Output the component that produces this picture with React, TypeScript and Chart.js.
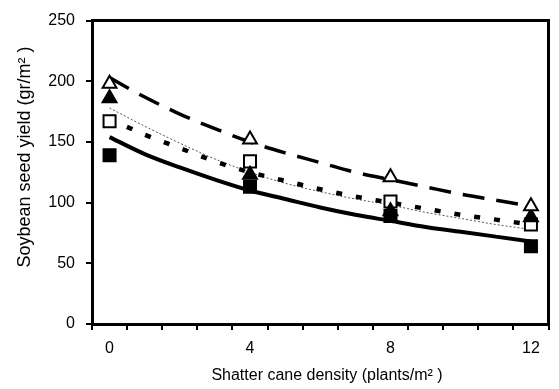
import React, { useEffect, useRef } from "react";
import { Chart, registerables } from "chart.js";

Chart.register(...registerables);

// Observed data (density in plants/m2, yield in gr/m2)
const densities = [0, 4, 8, 12];
const openTriangle = [198, 152, 121, 97];
const filledTriangle = [186, 123, 93, 88];
const openSquare = [167, 134, 101, 82];
const filledSquare = [139, 113, 89, 64];

// Fitted curves
const fitDensities = [0, 1, 2, 3, 4, 5, 6, 7, 8, 9, 10, 11, 12];
const openTriangleFit = [203, 187, 173, 161, 150, 141, 133, 125, 119, 113, 107, 102, 97];
const filledTriangleFit = [169, 156, 145, 134, 125, 118, 111, 105, 100, 95, 90, 86, 82];
const openSquareFit = [178, 163, 149, 136, 125, 116, 109, 103, 98, 92, 87, 82, 78];
const filledSquareFit = [154, 140, 129, 119, 110, 103, 96, 90, 85, 80, 76, 72, 68];

const xTickLabels = ["0", "4", "8", "12"];
const yTickValues = [0, 50, 100, 150, 200, 250];
const xTitle = "Shatter cane density (plants/m\u00B2 )";
const yTitle = "Soybean seed yield (gr/m\u00B2 )";

const FONT = "'Liberation Sans', Arial, sans-serif";

const pts = (xs: number[], ys: number[]) => xs.map((x, i) => ({ x, y: ys[i] }));

const frameAndTitles = {
  id: "frameAndTitles",
  afterDraw(chart: any) {
    const { ctx, chartArea } = chart;
    ctx.save();
    ctx.strokeStyle = "#000";
    ctx.lineWidth = 3;
    ctx.beginPath();
    ctx.moveTo(chartArea.left, chartArea.top);
    ctx.lineTo(chartArea.right, chartArea.top);
    ctx.lineTo(chartArea.right, chartArea.bottom);
    ctx.stroke();
    ctx.fillStyle = "#000";
    ctx.textAlign = "center";
    ctx.textBaseline = "middle";
    ctx.font = `16px ${FONT}`;
    ctx.fillText(xTitle, 327, 376);
    ctx.translate(25, 157);
    ctx.rotate(-Math.PI / 2);
    ctx.font = `18px ${FONT}`;
    ctx.fillText(yTitle, 0, 0);
    ctx.restore();
  },
};

export default function App() {
  const ref = useRef<HTMLCanvasElement>(null);
  useEffect(() => {
    document.body.style.margin = "0";
    const canvas = ref.current!;
    const pointSet = (label: string, data: number[], style: string, fill: boolean, radius: number) => ({
      type: "scatter" as const,
      label,
      data: pts(densities, data),
      pointStyle: style,
      pointRadius: radius,
      pointBackgroundColor: fill ? "#000" : "#fff",
      pointBorderColor: "#000",
      pointBorderWidth: 2,
      showLine: false,
      order: 0,
    });
    const fitSet = (label: string, data: number[], width: number, dash: number[], color: string, offset = 0) => ({
      type: "line" as const,
      label,
      data: pts(fitDensities, data),
      borderColor: color,
      borderWidth: width,
      borderDash: dash,
      borderDashOffset: offset,
      borderCapStyle: "butt",
      pointRadius: 0,
      cubicInterpolationMode: "monotone",
      fill: false,
      order: 1,
    });
    const chart = new Chart(canvas, {
      type: "line",
      data: {
        datasets: [
          pointSet("Open triangle", openTriangle, "triangle", false, 8),
          pointSet("Filled triangle", filledTriangle, "triangle", true, 8),
          pointSet("Open square", openSquare, "rect", false, 8.5),
          pointSet("Filled square", filledSquare, "rect", true, 8.5),
          fitSet("Open triangle fit", openTriangleFit, 3.5, [22, 12], "#000"),
          fitSet("Filled triangle fit", filledTriangleFit, 4.5, [6, 14], "#000", 1),
          fitSet("Open square fit", openSquareFit, 1, [2, 2], "#555"),
          fitSet("Filled square fit", filledSquareFit, 4, [], "#000"),
        ] as any,
      },
      options: {
        animation: false,
        responsive: false,
        devicePixelRatio: 1,
        layout: { padding: { top: 13, right: 8, left: 0, bottom: 0 } },
        plugins: { legend: { display: false }, tooltip: { enabled: false } },
        scales: {
          x: {
            type: "linear",
            min: -0.5,
            max: 12.5,
            afterBuildTicks: (scale: any) => {
              const t = [];
              for (let v = -0.5; v <= 12.5001; v += 0.5) t.push({ value: v });
              scale.ticks = t;
            },
            afterFit: (scale: any) => {
              scale.height = 65;
            },
            ticks: {
              autoSkip: false,
              maxRotation: 0,
              padding: 9,
              color: "#000",
              font: { family: FONT, size: 16 },
              callback: (v: any) => (xTickLabels.includes(String(v)) ? String(v) : ""),
            },
            grid: {
              drawOnChartArea: false,
              drawTicks: true,
              tickLength: 6,
              lineWidth: 2,
              color: (c: any) =>
                c.tick && Math.abs(Math.abs(c.tick.value % 1) - 0.5) < 1e-6 ? "#000" : "rgba(0,0,0,0)",
            },
            border: { display: true, color: "#000", width: 3 },
          },
          y: {
            type: "linear",
            min: 0,
            max: 250,
            afterBuildTicks: (scale: any) => {
              scale.ticks = yTickValues.map((v) => ({ value: v }));
            },
            afterFit: (scale: any) => {
              scale.width = 92;
            },
            ticks: {
              padding: 11,
              color: "#000",
              font: { family: FONT, size: 16 },
            },
            grid: {
              drawOnChartArea: false,
              drawTicks: true,
              tickLength: 6,
              lineWidth: 2,
              color: "#000",
            },
            border: { display: true, color: "#000", width: 3 },
          },
        },
      } as any,
      plugins: [frameAndTitles],
    });
    return () => chart.destroy();
  }, []);
  return (
    <div style={{ width: 559, height: 389, background: "#fff" }}>
      <canvas ref={ref} width={559} height={389} style={{ display: "block" }} />
    </div>
  );
}
